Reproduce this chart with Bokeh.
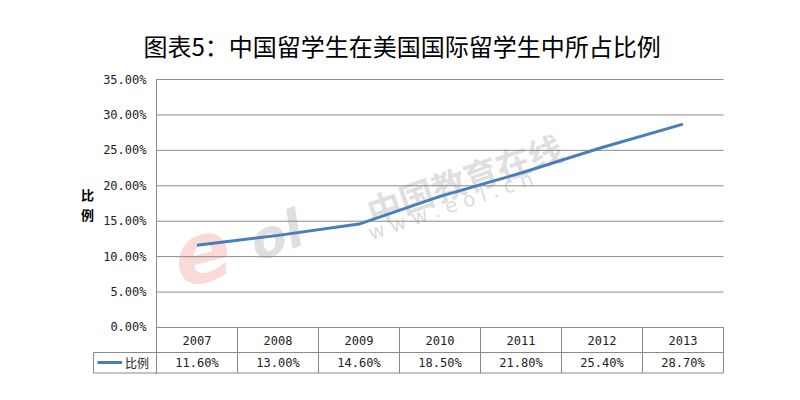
import math
from bokeh.plotting import figure
from bokeh.models import Range1d, FixedTicker, NumeralTickFormatter, Legend, LegendItem
from bokeh.core.properties import value
from bokeh.embed import file_html
from bokeh.resources import INLINE

# ---- data ----
years = ["2007", "2008", "2009", "2010", "2011", "2012", "2013"]
ratio = [0.116, 0.130, 0.146, 0.185, 0.218, 0.254, 0.287]
y_ticks = [0.0, 0.05, 0.10, 0.15, 0.20, 0.25, 0.30, 0.35]
series_name = "比例"
title_text = "图表5：中国留学生在美国国际留学生中所占比例"

idx = list(range(len(years)))
value_labels = [f"{v * 100:.2f}%" for v in ratio]

GRAY = "#8a8a8a"
BLUE = "#4a7ebb"
CJK = "Noto Sans CJK SC"
MONO = "DejaVu Sans Mono"

# layout in data units (1 x unit = one table column)
row1 = -0.0353   # bottom of year row
row2 = -0.0642   # bottom of value row
leg_left = -0.5 - 63 / 81
y_bottom = -47 / 708.57

p = figure(width=784, height=384, output_backend="svg", toolbar_location=None,
           x_range=Range1d(-0.5 - 96 / 81, 6.5 + 1 / 81),
           y_range=Range1d(y_bottom, 0.35 + 10 / 708.57),
           x_axis_location=None,
           min_border_left=60, min_border_right=60, min_border_top=69, min_border_bottom=10)
p.outline_line_color = None
p.xgrid.visible = False
p.ygrid.visible = False
p.background_fill_color = "white"
p.border_fill_color = "white"

# title
p.title.text = title_text
p.title.align = "left"
p.title.offset = 83
p.title.text_font = CJK
p.title.text_font_size = "24px"
p.title.text_font_style = "normal"
p.title.text_color = "black"
p.title.standoff = 14

# y axis at the left border of the data area
ax = p.yaxis[0]
ax.fixed_location = -0.5
ax.bounds = (y_bottom, 0.35)
ax.ticker = FixedTicker(ticks=y_ticks)
ax.formatter = NumeralTickFormatter(format="0.00%")
ax.major_tick_out = 0
ax.major_tick_in = 0
ax.minor_tick_out = 0
ax.minor_tick_in = 0
ax.major_label_standoff = 10
ax.major_label_text_font = MONO
ax.major_label_text_font_size = "12px"
ax.major_label_text_color = "#222222"
ax.axis_line_color = GRAY

# watermark
p.text(x=[3.30], y=[0.2103], text=["中国教育在线"], angle=math.radians(19),
       text_font=value(CJK), text_font_size="34px", text_font_style="bold",
       text_color="#b8b8b8", text_alpha=0.45, text_align="center", text_baseline="middle")
p.text(x=[3.13], y=[0.172], text=["w w w . e o l . c n"], angle=math.radians(19),
       text_font=value("DejaVu Sans"), text_font_size="20px",
       text_color="#b8b8b8", text_alpha=0.5, text_align="center", text_baseline="middle")
p.text(x=[0.05], y=[0.108], text=["e"], angle=math.radians(15),
       text_font=value("DejaVu Sans"), text_font_size="84px", text_font_style="bold italic",
       text_color="#f08080", text_alpha=0.3, text_align="center", text_baseline="middle")
p.text(x=[0.98], y=[0.130], text=["ol"], angle=math.radians(20),
       text_font=value("DejaVu Sans"), text_font_size="52px", text_font_style="bold italic",
       text_color="#b0b0b0", text_alpha=0.4, text_align="center", text_baseline="middle")

# gridlines
p.segment(x0=[-0.5] * len(y_ticks), x1=[6.5] * len(y_ticks), y0=y_ticks, y1=y_ticks,
          line_color=GRAY, line_width=1)

# table grid
p.segment(x0=[leg_left, leg_left], x1=[6.5, 6.5], y0=[row1, row2], y1=[row1, row2],
          line_color=GRAY, line_width=1)
col_edges = [i - 0.5 for i in range(len(years) + 1)]
p.segment(x0=col_edges, x1=col_edges, y0=[0] * len(col_edges), y1=[row2] * len(col_edges),
          line_color=GRAY, line_width=1)
p.segment(x0=[leg_left], x1=[leg_left], y0=[row1], y1=[row2], line_color=GRAY, line_width=1)

# table text
p.text(x=idx, y=[row1 / 2] * len(idx), text=years, text_font=value(MONO),
       text_font_size="12px", text_color="#222222", text_align="center", text_baseline="middle")
p.text(x=idx, y=[(row1 + row2) / 2] * len(idx), text=value_labels, text_font=value(MONO),
       text_font_size="12px", text_color="#222222", text_align="center", text_baseline="middle")

# y axis title (stacked)
p.text(x=[-0.5 - 69 / 81], y=[0.1736], text=["比\n例"], text_font=value(CJK),
       text_font_size="13px", text_font_style="bold", text_color="black",
       text_align="center", text_baseline="middle", text_line_height=1.1)

# data line
line_r = p.line(x=idx, y=ratio, line_color=BLUE, line_width=3)

legend = Legend(items=[LegendItem(label=series_name, renderers=[line_r])],
                location=(37, 2), padding=0, margin=0, spacing=0,
                glyph_width=25, glyph_height=20, label_standoff=3, label_height=20,
                label_text_font=CJK, label_text_font_size="12px", label_text_color="#222222",
                border_line_alpha=0, background_fill_alpha=0)
p.add_layout(legend, "center")

open("out.html", "w").write(file_html(p, INLINE))
